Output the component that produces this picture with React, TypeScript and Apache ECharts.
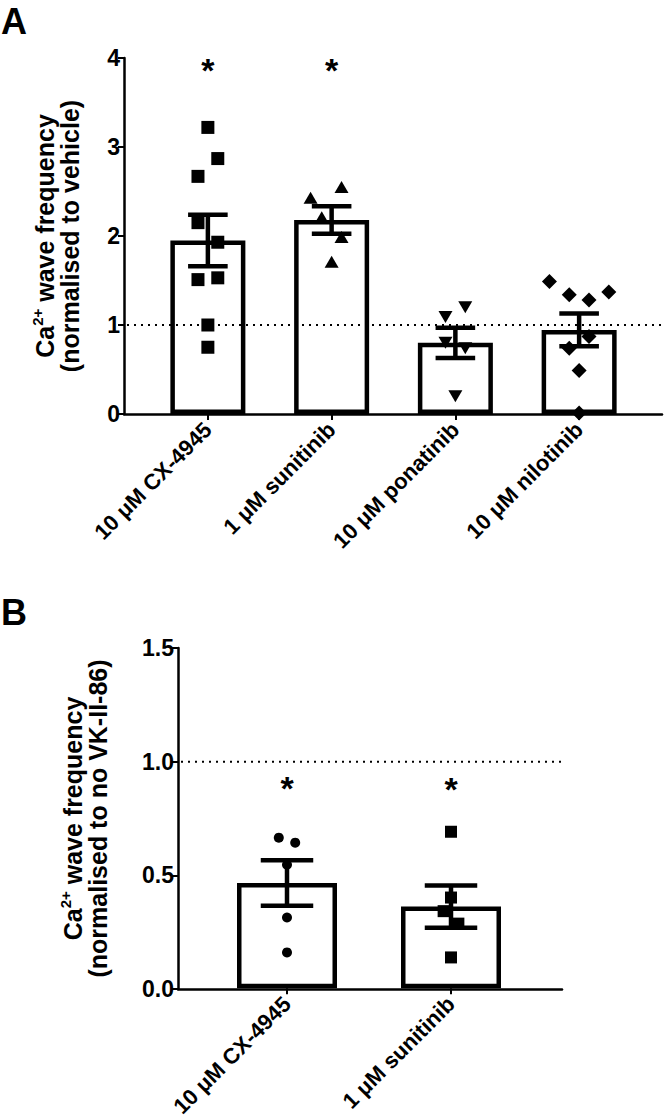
import React, { useEffect, useRef } from 'react';
import * as echarts from 'echarts';

const FONT = '"Liberation Sans", Arial, sans-serif';

// ---------- Panel A ----------
const catsA = ['10 μM CX-4945', '1 μM sunitinib', '10 μM ponatinib', '10 μM nilotinib'];
const meanA = [1.95, 2.18, 0.8, 0.945];
const semA = [0.29, 0.155, 0.17, 0.185];
const ptsA_cx = [3.22, 2.87, 2.67, 2.15, 1.93, 1.51, 1.53, 1.0, 0.75];
const jitA_cx = [0, 0.08, -0.08, -0.08, 0.08, -0.08, 0.08, 0, 0];
const ptsA_sun = [2.55, 2.43, 2.21, 1.99, 1.71];
const jitA_sun = [0.08, -0.17, -0.08, 0.08, 0];
const ptsA_pon = [1.2, 1.09, 0.8, 0.74, 0.2];
const jitA_pon = [0.08, -0.08, -0.08, 0.08, 0];
const ptsA_nil = [1.49, 1.34, 1.28, 1.37, 0.87, 0.74, 0.49, 0.01];
const jitA_nil = [-0.24, -0.08, 0.08, 0.24, 0.08, -0.08, 0, 0];
const starsA = [[0, 3.86], [1, 3.86]];
const refA = 1;

// ---------- Panel B ----------
const catsB = ['10 μM CX-4945', '1 μM sunitinib'];
const meanB = [0.464, 0.36];
const semB = [0.1, 0.093];
const ptsB_cx = [0.664, 0.642, 0.545, 0.312, 0.158];
const jitB_cx = [-0.05, 0.05, 0, 0, 0];
const ptsB_sun = [0.69, 0.4, 0.34, 0.285, 0.136];
const jitB_sun = [0, 0, -0.045, 0.045, 0];
const starsB = [[0, 0.885], [1, 0.88]];
const refB = 1;

const BLACK = '#000';

function scatter(idx: number, vals: number[], jit: number[], xAxisIndex: number, yAxisIndex: number, symbol: string, size: any, rotate = 0) {
  return {
    type: 'scatter',
    xAxisIndex,
    yAxisIndex,
    symbol,
    symbolSize: size,
    symbolRotate: rotate,
    itemStyle: { color: BLACK, opacity: 1 },
    z: 6,
    data: vals.map((v, i) => [idx + jit[i], v]),
  };
}

function errorSeries(means: number[], sems: number[], xAxisIndex: number, yAxisIndex: number) {
  return {
    type: 'custom',
    xAxisIndex,
    yAxisIndex,
    z: 5,
    data: means.map((m, i) => [i, m, sems[i]]),
    renderItem: (params: any, api: any) => {
      const x = api.value(0);
      const m = api.value(1);
      const s = api.value(2);
      const top = api.coord([x, m + s]);
      const bot = api.coord([x, m - s]);
      const half = api.size([1, 0])[0] * 0.16;
      const style = { stroke: BLACK, lineWidth: 4.5 };
      return {
        type: 'group',
        children: [
          { type: 'line', shape: { x1: top[0], y1: top[1], x2: bot[0], y2: bot[1] }, style },
          { type: 'line', shape: { x1: top[0] - half, y1: top[1], x2: top[0] + half, y2: top[1] }, style },
          { type: 'line', shape: { x1: bot[0] - half, y1: bot[1], x2: bot[0] + half, y2: bot[1] }, style },
        ],
      };
    },
  };
}

function refLine(val: number, xAxisIndex: number, yAxisIndex: number) {
  return {
    type: 'custom',
    xAxisIndex,
    yAxisIndex,
    z: 4,
    data: [[0, val]],
    renderItem: (params: any, api: any) => {
      const cs = params.coordSys;
      const y = api.coord([0, api.value(1)])[1];
      return {
        type: 'line',
        shape: { x1: cs.x + 3, y1: y, x2: cs.x + cs.width, y2: y },
        style: { stroke: BLACK, lineWidth: 2, lineDash: [2, 5] },
      };
    },
  };
}

function stars(data: number[][], xAxisIndex: number, yAxisIndex: number) {
  return {
    type: 'custom',
    xAxisIndex,
    yAxisIndex,
    z: 6,
    data,
    renderItem: (params: any, api: any) => {
      const p = api.coord([api.value(0), api.value(1)]);
      return {
        type: 'text',
        x: p[0],
        y: p[1],
        style: {
          text: '*',
          fontSize: 34,
          fontWeight: 'bold',
          fontFamily: FONT,
          align: 'center',
          verticalAlign: 'middle',
          fill: BLACK,
        },
      };
    },
  };
}

function barSeries(means: number[], xAxisIndex: number, yAxisIndex: number, width: number) {
  return {
    type: 'bar',
    xAxisIndex,
    yAxisIndex,
    barWidth: width,
    z: 2,
    itemStyle: { color: '#fff', borderColor: BLACK, borderWidth: 4.5 },
    data: means,
  };
}

const tickLabel = { color: BLACK, fontSize: 23, fontWeight: 'bold', fontFamily: FONT };

function frameX(gridIndex: number) {
  return {
    type: 'value', gridIndex, min: 0, max: 1,
    axisLine: { show: true, onZero: false, lineStyle: { color: BLACK, width: 2.5 } },
    axisTick: { show: false }, axisLabel: { show: false }, splitLine: { show: false },
  };
}

function dataCatX(gridIndex: number, cats: string[]) {
  return {
    type: 'category', gridIndex, data: cats,
    axisLine: { show: false },
    axisTick: { show: true, alignWithLabel: true, length: 6, lineStyle: { color: BLACK, width: 2 } },
    axisLabel: { ...tickLabel, fontSize: 22, rotate: 45, interval: 0, margin: 12 },
    splitLine: { show: false },
  };
}

function dataValX(gridIndex: number, n: number) {
  return { type: 'value', gridIndex, min: -0.5, max: n - 0.5, show: false };
}

function nameRich(second: string) {
  return {
    name: '{a|Ca}{s|2+}{a| wave frequency}\n{a|' + second + '}',
    nameLocation: 'middle',
    nameRotate: 90,
    nameTextStyle: {
      rich: {
        a: { fontSize: 25, fontWeight: 'bold', fontFamily: FONT, color: BLACK, lineHeight: 25 },
        s: { fontSize: 15, fontWeight: 'bold', fontFamily: FONT, color: BLACK, lineHeight: 25, padding: [0, 0, 14, 0] },
      },
    },
  };
}

function frameY(gridIndex: number, max: number, interval: number, second: string, gap: number, digits: number) {
  return {
    type: 'value', gridIndex, min: 0, max, interval,
    ...nameRich(second),
    nameGap: gap,
    axisLine: { show: true, onZero: false, lineStyle: { color: BLACK, width: 2.5 } },
    axisTick: { show: true, length: 6, lineStyle: { color: BLACK, width: 2 } },
    axisLabel: { ...tickLabel, margin: 4, formatter: (v: number) => v.toFixed(digits) },
    splitLine: { show: false },
  };
}

function dataY(gridIndex: number, max: number) {
  return { type: 'value', gridIndex, min: 0, max, show: false };
}

export default function App() {
  const ref = useRef<HTMLDivElement>(null);
  useEffect(() => {
    document.body.style.margin = '0';
    const chart = echarts.init(ref.current!, null, { renderer: 'svg' });
    const option: any = {
      animation: false,
      backgroundColor: '#fff',
      grid: [
        { left: 124, right: 4, top: 58, bottom: 706 },
        { left: 146, right: 25, top: 58, bottom: 706 },
        { left: 178, right: 104, top: 648, bottom: 131 },
        { left: 205, right: 133, top: 648, bottom: 131 },
      ],
      xAxis: [
        frameX(0),
        dataCatX(1, catsA),
        dataValX(1, catsA.length),
        frameX(2),
        dataCatX(3, catsB),
        dataValX(3, catsB.length),
      ],
      yAxis: [
        frameY(0, 4, 1, '(normalised to vehicle)', 42, 0),
        dataY(1, 4),
        frameY(2, 1.5, 0.5, '(normalised to no VK-II-86)', 68, 1),
        dataY(3, 1.5),
      ],
      graphic: [
        { type: 'text', left: 1, top: 3, style: { text: 'A', fontSize: 36, fontWeight: 'bold', fontFamily: FONT, fill: BLACK } },
        { type: 'text', left: 1, top: 594, style: { text: 'B', fontSize: 36, fontWeight: 'bold', fontFamily: FONT, fill: BLACK } },
      ],
      series: [
        // Panel A
        barSeries(meanA, 1, 1, 75),
        refLine(refA, 0, 0),
        errorSeries(meanA, semA, 1, 1),
        scatter(0, ptsA_cx, jitA_cx, 2, 1, 'rect', 13),
        scatter(1, ptsA_sun, jitA_sun, 2, 1, 'triangle', [14, 12]),
        scatter(2, ptsA_pon, jitA_pon, 2, 1, 'triangle', [14, 12], 180),
        scatter(3, ptsA_nil, jitA_nil, 2, 1, 'diamond', 15),
        stars(starsA, 1, 1),
        // Panel B
        barSeries(meanB, 4, 3, 100),
        refLine(refB, 3, 2),
        errorSeries(meanB, semB, 4, 3),
        scatter(0, ptsB_cx, jitB_cx, 5, 3, 'circle', 10),
        scatter(1, ptsB_sun, jitB_sun, 5, 3, 'rect', 12),
        stars(starsB, 4, 3),
      ],
    };
    chart.setOption(option);
    return () => chart.dispose();
  }, []);
  return <div ref={ref} style={{ width: 666, height: 1120 }} />;
}
